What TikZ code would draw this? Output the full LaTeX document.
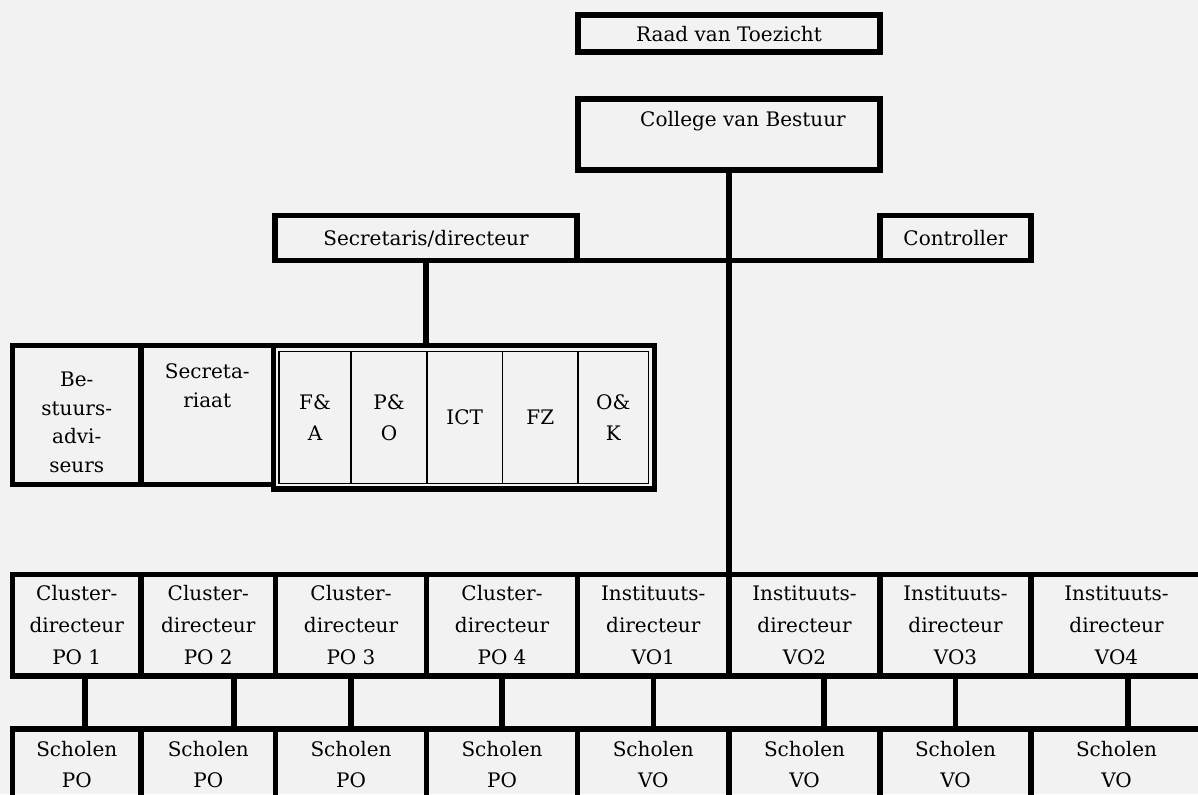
\documentclass[tikz,border=0pt]{standalone}
\usepackage{fontspec}
\setmainfont{DejaVu Serif}
\definecolor{paper}{HTML}{F2F2F2}
\begin{document}
\begin{tikzpicture}[x=0.75pt, y=-0.75pt, font=\fontsize{15}{24}\selectfont,
  box/.style={draw, line width=4.1pt, inner sep=0pt, outer sep=0pt, align=center,
    anchor=north west, text depth=0pt},
  size/.style n args={2}{minimum width={(#1)*0.75pt}, minimum height={(#2)*0.75pt}},
  dept/.style={box, line width=1.1pt, font=\fontsize{15}{23}\selectfont},
  bar/.style={line width=4.1pt}]
  \fill[paper] (0,0) rectangle (1198,794);
  \useasboundingbox (0,0) rectangle (1198,794);
  \clip (0,0) rectangle (1198,794);
  \node[box, size={302}{37}] (rvt) at (578,15) {Raad van Toezicht};
  \node[box, size={302}{71}] (cvb) at (578,99) {\hspace*{21pt}College van Bestuur\\\mbox{}};
  \node[box, size={302}{45}] (sec) at (275,215.5) {Secretaris/directeur};
  \node[box, size={151}{45}] (ctrl) at (880,215.5) {Controller};
  % staf
  \node[box, size={128.5}{139}, text height=86pt,
    font=\fontsize{15}{21.5}\selectfont] (adv) at (12.5,345.5) {Be-\\stuurs-\\advi-\\seurs};
  \node[box, size={132.5}{139}, font=\fontsize{15}{22}\selectfont] (secr) at (141,345.5) {Secreta-\\riaat\\\mbox{}\\\mbox{}};
  \node[box, size={381}{143.5}] (ond) at (273.5,345.5) {};
  \foreach \n/\l/\r/\t in {fa/279/351/{F\&\\A}, pz/351/427/{P\&\\O}, ict/427/502.5/ICT,
      fz/502.5/578/FZ, ok/578/648.5/{O\&\\K}}
    \node[dept, size={\r-\l}{132}] (\n) at (\l,351.5) {\t};
  % directeuren en scholen
  \foreach \n/\l/\r/\t in {d1/12.5/141/{Cluster-\\directeur\\PO 1}, d2/141/275.5/{Cluster-\\directeur\\PO 2},
      d3/275.5/426.5/{Cluster-\\directeur\\PO 3}, d4/426.5/577.5/{Cluster-\\directeur\\PO 4},
      d5/577.5/729/{Instituuts-\\directeur\\VO1}, d6/729/880/{Instituuts-\\directeur\\VO2},
      d7/880/1031/{Instituuts-\\directeur\\VO3}, d8/1031/1202/{Instituuts-\\directeur\\VO4}}
    \node[box, size={\r-\l}{101.5}] (\n) at (\l,574.5) {\t};
  \foreach \n/\l/\r/\t in {s1/12.5/141/PO, s2/141/275.5/PO, s3/275.5/426.5/PO, s4/426.5/577.5/PO,
      s5/577.5/729/VO, s6/729/880/VO, s7/880/1031/VO, s8/1031/1202/VO}
    \node[box, size={\r-\l}{71}, font=\fontsize{15}{23}\selectfont] (\n) at (\l,729) {Scholen\\\t};
  \draw[bar] (cvb.south) -- (d5.north east);
  \draw[bar] (sec.south east) -- (ctrl.south west);
  \draw[bar] (sec.south) -- (sec.south |- ond.north);
  \foreach \i/\dx in {1/8.25,2/25.75,3/0,4/0,5/0,6/19.5,7/0,8/11.5}
    \draw[bar] ([xshift=\dx*0.75pt]d\i.south) -- ([xshift=\dx*0.75pt]s\i.north);
\end{tikzpicture}
\end{document}
